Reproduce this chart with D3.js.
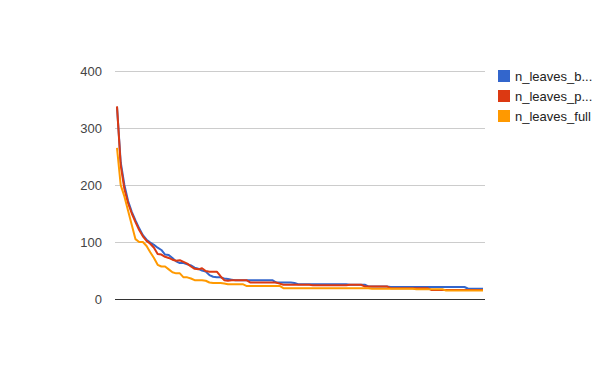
<!DOCTYPE html>
<html>
<head>
<meta charset="utf-8">
<script src="https://cdn.jsdelivr.net/npm/d3@7"></script>
<style>
  body { margin: 0; background: #fff; }
  text { font-family: Arial, "Liberation Sans", sans-serif; }
</style>
</head>
<body>
<div id="chart"></div>
<script>
// Data (index = leaf rank)
var seriesNames = ["n_leaves_b...", "n_leaves_p...", "n_leaves_full"];
var colors = ["#3366cc", "#dc3912", "#ff9900"];
var yTicks = [0, 100, 200, 300, 400];

var blue = [337, 240, 200, 172, 153, 138, 124, 112, 104, 99,
  95, 90, 86, 78, 77, 72, 66, 63, 63, 61,
  59, 55, 53, 50, 48, 42, 39, 38, 38, 36,
  35, 34, 33, 33, 33, 33, 33, 33, 33, 33,
  33, 33, 33, 29, 29, 29, 29, 29, 28, 26,
  26, 26, 26, 26, 26, 26, 26, 26, 26, 26,
  26, 26, 26, 25, 25, 25, 25, 25, 22, 22,
  22, 22, 22, 22, 21, 21, 21, 21, 21, 21,
  21, 21, 21, 21, 21, 21, 21, 21, 21, 21,
  21, 21, 21, 21, 21, 18, 18, 18, 18, 18];

var red = [338, 235, 193, 168, 150, 135, 121, 110, 102, 97,
  90, 79, 78, 74, 72, 69, 67, 68, 65, 62,
  57, 53, 52, 54, 49, 48, 48, 48, 40, 33,
  32, 33, 33, 33, 33, 33, 29, 29, 29, 29,
  29, 29, 29, 29, 27, 25, 25, 25, 25, 25,
  25, 25, 25, 24, 24, 24, 24, 24, 24, 24,
  24, 24, 24, 25, 25, 25, 25, 22, 22, 22,
  22, 22, 22, 22, 19, 19, 19, 19, 19, 19,
  19, 19, 19, 19, 19, 16, 16, 16, 16, 16,
  16, 16, 16, 16, 16, 16, 16, 16, 16, 16];

var orange = [265, 200, 180, 155, 130, 105, 100, 100, 93, 82,
  72, 60, 57, 57, 52, 47, 45, 45, 38, 38,
  36, 33, 33, 33, 32, 29, 28, 28, 28, 27,
  26, 26, 26, 26, 26, 23, 23, 23, 23, 23,
  23, 23, 23, 23, 23, 19, 19, 19, 19, 19,
  19, 19, 19, 19, 19, 19, 19, 19, 19, 19,
  19, 19, 19, 19, 19, 19, 19, 19, 19, 18,
  18, 18, 18, 18, 18, 18, 18, 18, 18, 18,
  18, 17, 17, 17, 17, 17, 17, 17, 17, 15,
  15, 15, 15, 15, 15, 15, 15, 15, 15, 15];

var series = [blue, red, orange];

// Layout
var WIDTH = 600, HEIGHT = 371;
var PLOT = { left: 115, right: 485, top: 71, bottom: 299 };

var svg = d3.select("#chart").append("svg")
  .attr("width", WIDTH)
  .attr("height", HEIGHT)
  .style("background", "#fff");

var x = d3.scaleLinear()
  .domain([0, blue.length - 1])
  .range([PLOT.left + 2, PLOT.right - 2]);

var y = d3.scaleLinear()
  .domain([0, 400])
  .range([PLOT.bottom, PLOT.top]);

// Gridlines + tick labels via axis
var axis = d3.axisLeft(y)
  .tickValues(yTicks)
  .tickSize(-(PLOT.right - PLOT.left))
  .tickPadding(13);

var g = svg.append("g")
  .attr("transform", "translate(" + PLOT.left + ",0)")
  .call(axis);

g.select(".domain").remove();
g.selectAll(".tick line")
  .attr("stroke", "#cccccc")
  .attr("shape-rendering", "crispEdges");
g.selectAll(".tick text")
  .attr("fill", "#444")
  .style("font-size", "13px")
  .style("font-family", "Arial, 'Liberation Sans', sans-serif");

// Lines
var line = d3.line()
  .x(function(d, i) { return x(i); })
  .y(function(d) { return y(d); });

series.forEach(function(s, k) {
  svg.append("path")
    .datum(s)
    .attr("fill", "none")
    .attr("stroke", colors[k])
    .attr("stroke-width", 2)
    .attr("stroke-linejoin", "round")
    .attr("d", line);
});

// Baseline
svg.append("line")
  .attr("x1", PLOT.left).attr("x2", PLOT.right)
  .attr("y1", y(0) + 0.5).attr("y2", y(0) + 0.5)
  .attr("stroke", "#333");

// Legend
var legend = svg.append("g").selectAll("g")
  .data(seriesNames)
  .enter()
  .append("g")
  .attr("transform", function(d, i) { return "translate(498," + (70 + i * 20) + ")"; });

legend.append("rect")
  .attr("width", 12).attr("height", 12)
  .attr("fill", function(d, i) { return colors[i]; });

legend.append("text")
  .attr("x", 17).attr("y", 11)
  .attr("fill", "#222")
  .style("font-size", "13px")
  .text(function(d) { return d; });
</script>
</body>
</html>
